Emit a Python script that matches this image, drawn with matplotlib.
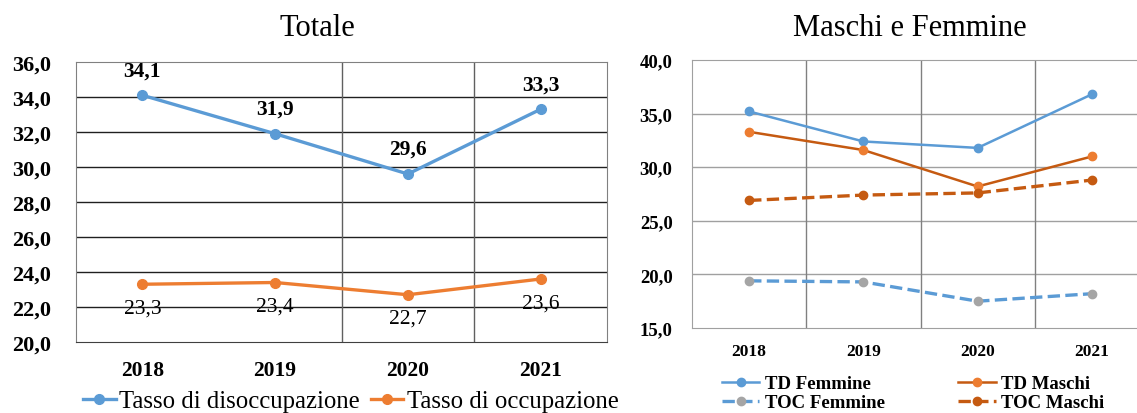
import numpy as np
import matplotlib
matplotlib.use('Agg')
import matplotlib.pyplot as plt

plt.rcParams['font.family'] = 'Liberation Serif'

anni = ['2018', '2019', '2020', '2021']

# Totale
disoccupazione = [34.1, 31.9, 29.6, 33.3]
occupazione = [23.3, 23.4, 22.7, 23.6]

# Maschi e Femmine
td_femmine = [35.2, 32.4, 31.8, 36.8]
td_maschi = [33.3, 31.6, 28.2, 31.0]
toc_femmine = [19.4, 19.3, 17.5, 18.2]
toc_maschi = [26.9, 27.4, 27.6, 28.8]

blu = '#5B9BD5'
arancio = '#ED7D31'
arancio_scuro = '#C55A11'
grigio = '#A5A5A5'


def it(v):
    return f'{v:.1f}'.replace('.', ',')


fig = plt.figure(figsize=(11.37, 4.14), dpi=100)
x = np.arange(len(anni))

# ---- left: Totale
ax1 = fig.add_axes([76 / 1137, 71 / 414, 531 / 1137, 280 / 414])
ax1.plot(x, disoccupazione, '-o', color=blu, lw=2.4, ms=7, label='Tasso di disoccupazione', zorder=3)
ax1.plot(x, occupazione, '-o', color=arancio, lw=2.4, ms=7, label='Tasso di occupazione', zorder=3)
for xi, v in zip(x, disoccupazione):
    ax1.annotate(it(v), (xi, v), xytext=(0, 18), textcoords='offset points', ha='center', va='center',
                 fontsize=15.5, fontweight='bold')
for xi, v in zip(x, occupazione):
    ax1.annotate(it(v), (xi, v), xytext=(0, -17), textcoords='offset points', ha='center', va='center',
                 fontsize=15.5)
ax1.set_xlim(-0.5, 3.5)
ax1.set_ylim(20, 36)
ax1.set_yticks(np.arange(20, 37, 2))
ax1.set_yticklabels([it(v) for v in np.arange(20, 37, 2)], fontsize=16, fontweight='bold')
ax1.set_xticks(x)
ax1.set_xticklabels(anni, fontsize=15.5, fontweight='bold')
ax1.tick_params(length=0, axis='y', pad=18)
ax1.tick_params(length=0, axis='x', pad=13)
for v in np.arange(22, 36, 2):
    ax1.axhline(v, color='#202020', lw=1, zorder=1)
for v in [1.5, 2.5]:
    ax1.axvline(v, color='#606060', lw=1, zorder=1)
for s in ax1.spines.values():
    s.set_color('#808080')
ax1.spines['bottom'].set_color('#404040')
fig.text(317 / 1137, 1 - 28 / 414, 'Totale', ha='center', va='center', fontsize=22)
fig.legend(*ax1.get_legend_handles_labels(), loc='center', bbox_to_anchor=(351 / 1137, 1 - 402 / 414),
           ncol=2, frameon=False, prop={'size': 17.8}, handlelength=1.3, handletextpad=0.15,
           columnspacing=0.45, borderaxespad=0, borderpad=0)

# ---- right: Maschi e Femmine
ax2 = fig.add_axes([692 / 1137, 85 / 414, 457 / 1137, 268 / 414])
ax2.plot(x, td_femmine, '-o', color=blu, lw=1.8, ms=6, label='TD Femmine', zorder=3)
ax2.plot(x, td_maschi, '-o', color=arancio_scuro, mfc=arancio, mec=arancio, lw=1.8, ms=6,
         label='TD Maschi', zorder=3)
ax2.plot(x, toc_femmine, '--o', color=blu, mfc=grigio, mec=grigio, lw=2.4, ms=6,
         label='TOC Femmine', zorder=3)
ax2.plot(x, toc_maschi, '--o', color=arancio_scuro, lw=2.4, ms=6, label='TOC Maschi', zorder=3)
ax2.set_xlim(-0.5, 3.5)
ax2.set_ylim(15, 40)
ax2.set_yticks(np.arange(15, 41, 5))
ax2.set_yticklabels([it(v) for v in np.arange(15, 41, 5)], fontsize=13.5, fontweight='bold')
ax2.set_xticks(x)
ax2.set_xticklabels(anni, fontsize=12.5, fontweight='bold')
ax2.tick_params(length=0, axis='y', pad=14)
ax2.tick_params(length=0, axis='x', pad=11)
for v in np.arange(20, 40, 5):
    ax2.axhline(v, color='#A0A0A0', lw=1, zorder=1)
for v in [0.5, 1.5, 2.5]:
    ax2.axvline(v, color='#808080', lw=1, zorder=1)
for s in ax2.spines.values():
    s.set_color('#A0A0A0')
fig.text(910 / 1137, 1 - 28 / 414, 'Maschi e Femmine', ha='center', va='center', fontsize=22)
h, l = ax2.get_legend_handles_labels()
order = [0, 2, 1, 3]
fig.legend([h[i] for i in order], [l[i] for i in order], loc='center',
           bbox_to_anchor=(913 / 1137, 1 - 394 / 414), ncol=2, frameon=False,
           prop={'size': 13.5, 'weight': 'bold'}, handlelength=2.0, handletextpad=0.3,
           columnspacing=3.9, labelspacing=0.1, borderaxespad=0, borderpad=0)

fig.savefig('out.png', dpi=100)
